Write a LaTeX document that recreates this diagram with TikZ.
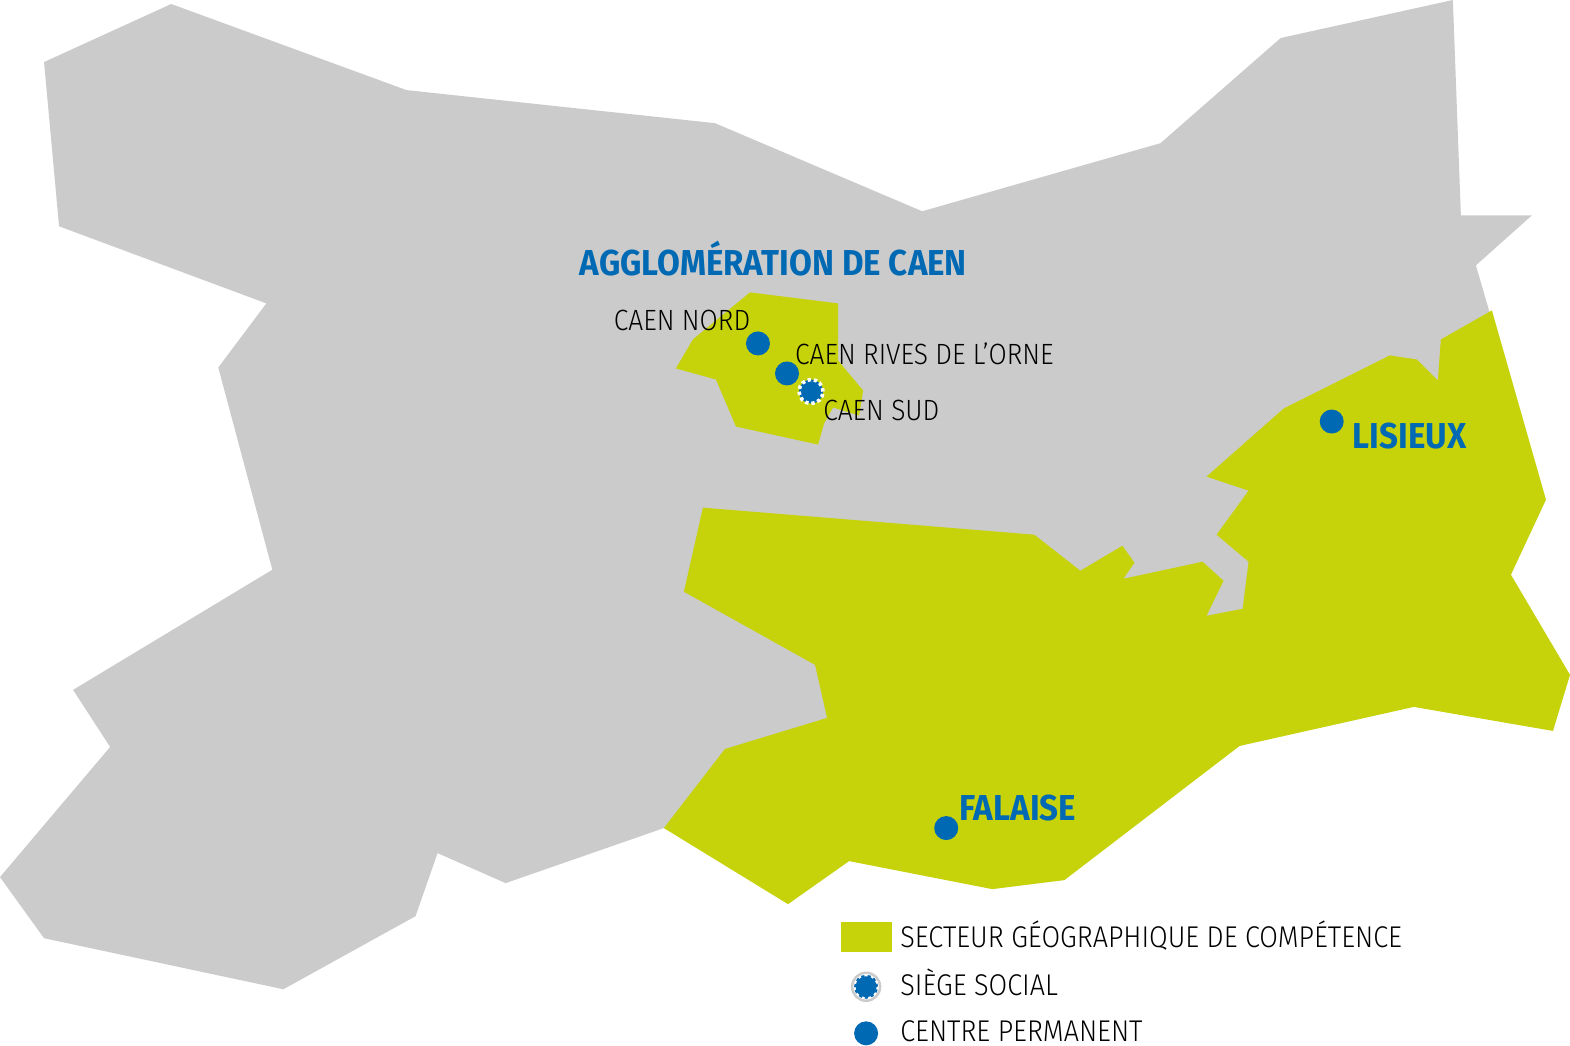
\documentclass[tikz,border=0pt]{standalone}
\usepackage{fontspec}
\setmainfont{Fira Sans}[FakeStretch=0.92]
\newfontfamily\lightfont{Fira Sans Light}[FakeStretch=0.9]
\usetikzlibrary{positioning}
\definecolor{mapgrey}{HTML}{CBCBCB}
\definecolor{mapgreen}{HTML}{C6D30A}
\definecolor{mapblue}{HTML}{0069B4}
\tikzset{
    town/.style={anchor=base west, inner sep=0pt, text=mapblue, font=\fontsize{36}{36}\selectfont\bfseries},
    label/.style={anchor=base west, inner sep=0pt, text=black, font=\fontsize{29.3}{29.3}\selectfont\lightfont},
    keylabel/.style={label, font=\fontsize{30}{30}\selectfont\lightfont},
    centre/.style={circle, fill=mapblue, minimum size=24pt, inner sep=0pt},
    siege/.style={circle, fill=mapblue, draw=white, line width=3.6pt, dash pattern=on 3.4pt off 2.88pt, minimum size=24pt, inner sep=0pt},
    siegekey/.style={circle, fill=mapblue, draw=mapblue, line width=3pt, dash pattern=on 3pt off 3pt, minimum size=21pt, inner sep=0pt},
}
\begin{document}
\begin{tikzpicture}[x=1.00128pt,y=-1.00128pt]
    \useasboundingbox (0,0) rectangle (1568,1043.7);
    \fill[white] (0,0) rectangle (1568,1043.7);
    % grey part of the map
    \fill[mapgrey] (171,4)--(406,90)--(714,123)--(921,211)--(1159,143)--(1279,38)--(1451,0)--(1459,215)--(1530,215)
        --(1474,265)--(1490,320)--(1400,650)--(1000,700)--(900,800)--(663,827)--(505,882)--(437,852)--(415,915)
        --(283,988)--(44,937)--(0,876)--(110,746)--(73,689)--(272,569)--(218,367)--(266,303)--(59,226)--(44,62)--cycle;
    % green sectors
    \fill[mapgreen] (702,507)--(1033,534)--(1079,570)--(1121,545)--(1133,562)--(1122,578)--(1201,561)--(1222,580)
        --(1205,615)--(1241,608)--(1247,561)--(1215,534)--(1247,490)--(1205,476)--(1282,408)--(1388,355)--(1415,359)
        --(1436,380)--(1439,339)--(1490,310)--(1544,499)--(1509,574)--(1568,674)--(1551,730)--(1412,706)--(1238,745)
        --(1063,879)--(991,888)--(848,860)--(787,903)--(663,827)--(724,748)--(826,717)--(814,664)--(683,591)--cycle;
    \fill[mapgreen] (749,292)--(837,303)--(837,360)--(862,390)--(858,415)--(832,407)--(823,423)--(817,444)--(735,426)
        --(715,379)--(675,368)--(692,339)--cycle;
    % centres
    \node[centre] (nord) at (757,343) {};
    \node[centre] (rives) at (786,373) {};
    \node[siege] (sud) at (810,391) {};
    \node[centre] (lisieux) at (1330,421) {};
    \node[centre] (falaise) at (945,827) {};
    % labels
    \node[town] (agglo) at (579,275.5) {AGGLOMÉRATION DE CAEN};
    \node[town] (lisieuxtext) at (1351,448) {LISIEUX};
    \node[town] (falaisetext) at (958,819.5) {FALAISE};
    \node[label] (nordtext) at (613,330) {CAEN NORD};
    \node[label] (rivestext) at (794,364) {CAEN RIVES DE L’ORNE};
    \node[label] (sudtext) at (822,420) {CAEN SUD};
    % legend
    \fill[mapgreen] (840,921) rectangle (891,951);
    \node[circle, fill=white, draw=mapgrey, line width=2.5pt, minimum size=28pt, inner sep=0pt] (ring) at (865,985.5) {};
    \node[siegekey] (siegemark) at (865,985.5) {};
    \node[centre] (centrekey) at (865,1032) {};
    \node[keylabel] (secteurtext) at (899,946) {SECTEUR GÉOGRAPHIQUE DE COMPÉTENCE};
    \node[keylabel] (siegetext) at (899,994) {SIÈGE SOCIAL};
    \node[keylabel] (centretext) at (899,1040) {CENTRE PERMANENT};
\end{tikzpicture}
\end{document}
